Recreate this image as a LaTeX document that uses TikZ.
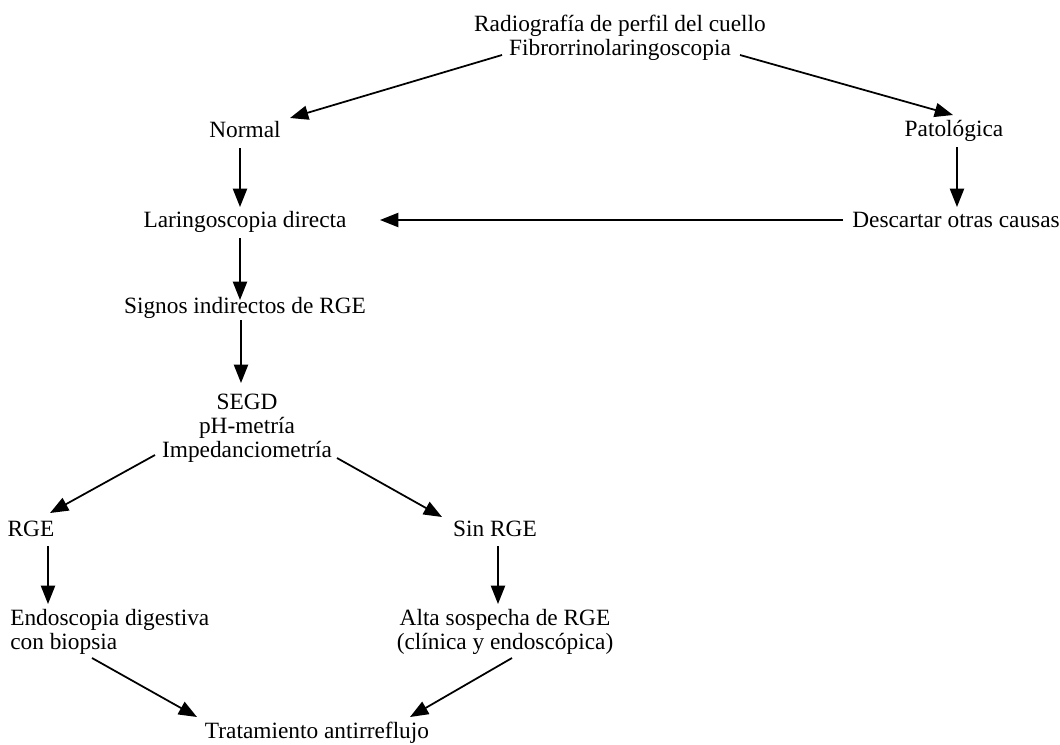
\documentclass[tikz,border=0pt]{standalone}
\usepackage{fontspec}
\setmainfont{Liberation Serif}
\usetikzlibrary{arrows.meta}

\begin{document}
\begin{tikzpicture}[
    x=0.025cm, y=-0.025cm,
    txt/.style={inner sep=0pt, align=center,
      font=\fontsize{16.6}{17}\selectfont},
    arr/.style={-{Triangle[length=13pt,width=10pt]}, line width=1.25pt}
  ]
    \useasboundingbox (0,0) rectangle (1060,744);

    \node[txt] (top)    at (620,38)  {Radiografía de perfil del cuello\\Fibrorrinolaringoscopia};
    \node[txt] (normal) at (245,130) {Normal};
    \node[txt] (patol)  at (954,131) {Patológica};
    \node[txt] (laring) at (245,222) {Laringoscopia directa};
    \node[txt] (descar) at (956,220) {Descartar otras causas};
    \node[txt] (signos) at (245,308) {Signos indirectos de RGE};
    \node[txt] (segd)   at (247,428) {SEGD\\pH-metría\\Impedanciometría};
    \node[txt] (rge)    at (31,529)  {RGE};
    \node[txt] (sinrge) at (495,529) {Sin RGE};
    \node[txt, align=left, anchor=west] (endo) at (10,632) {Endoscopia digestiva\\con biopsia};
    \node[txt] (alta)   at (505,632) {Alta sospecha de RGE\\(clínica y endoscópica)};
    \node[txt] (trat)   at (317,733) {Tratamiento antirreflujo};

    \draw[arr] ([shift={(-118,17)}]top.center) -- ([shift={(45,-12)}]normal.center);
    \draw[arr] ([shift={(120,17)}]top.center) -- ([shift={(-1,-16)}]patol.center);
    \draw[arr] ([shift={(-5,18)}]normal.center) -- ([shift={(-5,-15)}]laring.center);
    \draw[arr] ([shift={(3,16)}]patol.center) -- ([shift={(1,-13)}]descar.center);
    \draw[arr] ([shift={(-113,0)}]descar.center) -- ([shift={(135,-2)}]laring.center);
    \draw[arr] ([shift={(-5,16)}]laring.center) -- ([shift={(-5,-8)}]signos.center);
    \draw[arr] ([shift={(-4,12)}]signos.center) -- ([shift={(-6,-45)}]segd.center);
    \draw[arr] ([shift={(-92,27)}]segd.center) -- ([shift={(19,-16)}]rge.center);
    \draw[arr] ([shift={(90,30)}]segd.center) -- ([shift={(-53,-12)}]sinrge.center);
    \draw[arr] ([shift={(17,17)}]rge.center) -- ([shift={(38,-28)}]endo.west);
    \draw[arr] ([shift={(3,17)}]sinrge.center) -- ([shift={(-7,-28)}]alta.center);
    \draw[arr] ([shift={(82,26)}]endo.west) -- ([shift={(-120,-16)}]trat.center);
    \draw[arr] ([shift={(7,26)}]alta.center) -- ([shift={(93,-16)}]trat.center);
  \end{tikzpicture}
\end{document}
